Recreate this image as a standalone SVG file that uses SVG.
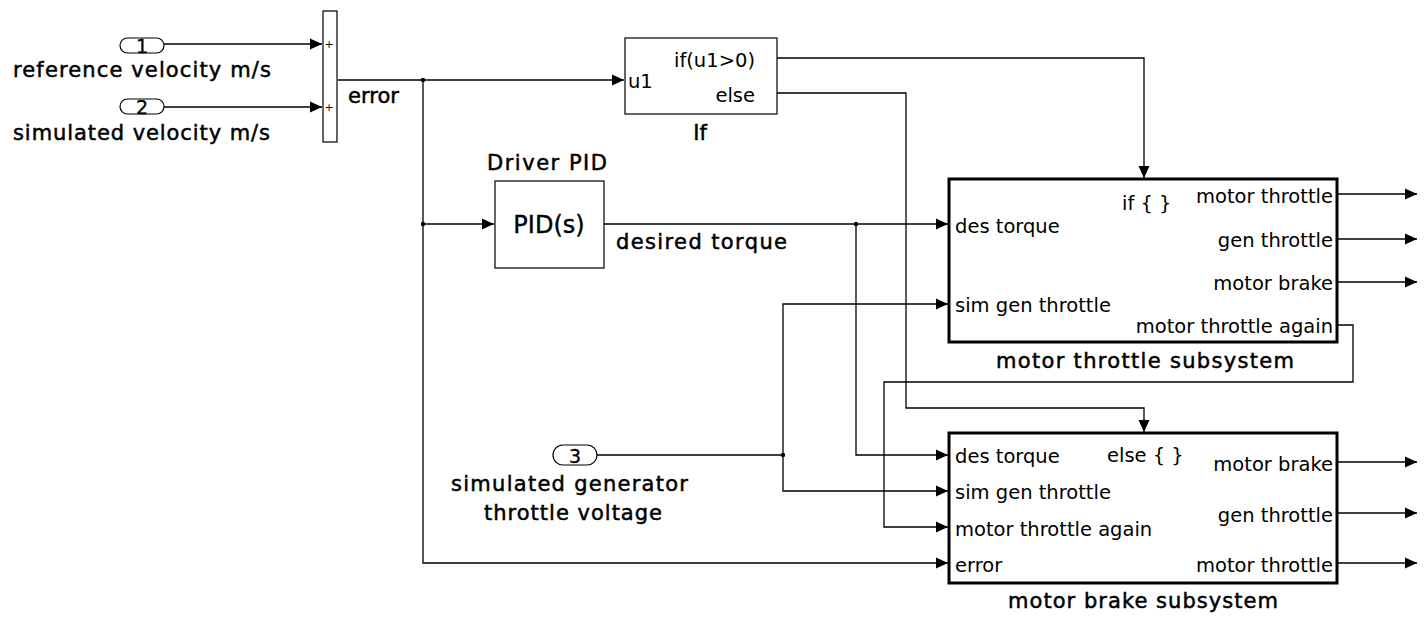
<svg xmlns="http://www.w3.org/2000/svg" width="1427" height="618" viewBox="0 0 1427 618">
<style>
text{font-family:"DejaVu Sans","Liberation Sans",sans-serif;fill:#000}
.in{font-size:19.5px}
.lb{font-size:21px;stroke:#000;stroke-width:0.5}
.num{font-size:19px;stroke:#000;stroke-width:0.3}
.blk{fill:#fff;stroke:#000;stroke-width:1.2}
.sub{fill:#fff;stroke:#000;stroke-width:3}
.ln{fill:none;stroke:#000;stroke-width:1.3}
.port{fill:#fff;stroke:#000;stroke-width:1.2}
</style>
<defs>
<marker id="ar" markerUnits="userSpaceOnUse" markerWidth="13" markerHeight="12" refX="12" refY="5.5" orient="auto" viewBox="0 0 13 11">
<path d="M0,0 L12,5.5 L0,11 Z" fill="#000"/>
</marker>
</defs>
<g id="connectors">
<path class="ln" d="M164,44 H322" marker-end="url(#ar)"/>
<path class="ln" d="M164,107 H322" marker-end="url(#ar)"/>
<path class="ln" d="M338,80 H624" marker-end="url(#ar)"/>
<path class="ln" d="M423,80 V563 H948" marker-end="url(#ar)"/>
<path class="ln" d="M423,224 H494" marker-end="url(#ar)"/>
<path class="ln" d="M604,224 H948" marker-end="url(#ar)"/>
<path class="ln" d="M856,224 V455 H948" marker-end="url(#ar)"/>
<path class="ln" d="M777,58 H1144 V178" marker-end="url(#ar)"/>
<path class="ln" d="M777,93 H906 V408 H1144 V432" marker-end="url(#ar)"/>
<path class="ln" d="M597,455 H783"/>
<path class="ln" d="M783,455 V304 H948" marker-end="url(#ar)"/>
<path class="ln" d="M783,455 V491 H948" marker-end="url(#ar)"/>
<path class="ln" d="M1337,325 H1353 V382 H884 V527 H948" marker-end="url(#ar)"/>
<path class="ln" d="M1337,194 H1417" marker-end="url(#ar)"/>
<path class="ln" d="M1337,239 H1417" marker-end="url(#ar)"/>
<path class="ln" d="M1337,282 H1417" marker-end="url(#ar)"/>
<path class="ln" d="M1337,462 H1417" marker-end="url(#ar)"/>
<path class="ln" d="M1337,513 H1417" marker-end="url(#ar)"/>
<path class="ln" d="M1337,563 H1417" marker-end="url(#ar)"/>
<circle cx="423" cy="80" r="2.2" fill="#000"/>
<circle cx="423" cy="224" r="2.2" fill="#000"/>
<circle cx="856" cy="224" r="2.2" fill="#000"/>
<circle cx="783" cy="455" r="2.2" fill="#000"/>
</g>
<g id="in1">
<rect class="port" x="120" y="38" width="44" height="15" rx="7.5"/>
<text class="num" x="142" y="53" text-anchor="middle">1</text>
<text class="lb" x="13" y="77" textLength="258" lengthAdjust="spacing">reference velocity m/s</text>
</g>
<g id="in2">
<rect class="port" x="120" y="99" width="44" height="15" rx="7.5"/>
<text class="num" x="142" y="114" text-anchor="middle">2</text>
<text class="lb" x="13" y="140" textLength="257" lengthAdjust="spacing">simulated velocity m/s</text>
</g>
<g id="sum">
<rect class="blk" x="323" y="11" width="14" height="131"/>
<text x="329" y="48" font-size="11" text-anchor="middle">+</text>
<text x="329" y="111" font-size="11" text-anchor="middle">+</text>
<text class="lb" x="348" y="103" textLength="51" lengthAdjust="spacing">error</text>
</g>
<g id="if">
<rect class="blk" x="625" y="38" width="152" height="76"/>
<text class="in" x="628" y="88">u1</text>
<text class="in" x="755" y="67" text-anchor="end">if(u1&gt;0)</text>
<text class="in" x="755" y="102" text-anchor="end">else</text>
<text class="lb" x="700" y="140" text-anchor="middle">If</text>
</g>
<g id="pid">
<rect class="blk" x="495" y="181" width="109" height="87"/>
<text x="549" y="233" font-size="24" stroke="#000" stroke-width="0.4" text-anchor="middle">PID(s)</text>
<text class="lb" x="487" y="170" textLength="120" lengthAdjust="spacing">Driver PID</text>
<text class="lb" x="616" y="249" textLength="171" lengthAdjust="spacing">desired torque</text>
</g>
<g id="in3">
<rect class="port" x="553" y="445" width="44" height="20" rx="10"/>
<text class="num" x="575" y="463" text-anchor="middle">3</text>
<text class="lb" x="451" y="491" textLength="237" lengthAdjust="spacing">simulated  generator</text>
<text class="lb" x="484" y="520" textLength="178" lengthAdjust="spacing">throttle voltage</text>
</g>
<g id="throttle">
<rect class="sub" x="949" y="179" width="388" height="163"/>
<text class="in" x="1122" y="210">if { }</text>
<text class="in" x="955" y="233">des torque</text>
<text class="in" x="955" y="312">sim gen throttle</text>
<text class="in" x="1333" y="203" text-anchor="end">motor throttle</text>
<text class="in" x="1333" y="247" text-anchor="end">gen throttle</text>
<text class="in" x="1333" y="290" text-anchor="end">motor brake</text>
<text class="in" x="1333" y="333" text-anchor="end">motor throttle again</text>
<text class="lb" x="996" y="368" textLength="298" lengthAdjust="spacing">motor throttle subsystem</text>
</g>
<g id="brake">
<rect class="sub" x="949" y="433" width="388" height="150"/>
<text class="in" x="1107" y="462">else { }</text>
<text class="in" x="955" y="463">des torque</text>
<text class="in" x="955" y="499">sim gen throttle</text>
<text class="in" x="955" y="536">motor throttle again</text>
<text class="in" x="955" y="572">error</text>
<text class="in" x="1333" y="471" text-anchor="end">motor brake</text>
<text class="in" x="1333" y="522" text-anchor="end">gen throttle</text>
<text class="in" x="1333" y="572" text-anchor="end">motor throttle</text>
<text class="lb" x="1008" y="608" textLength="270" lengthAdjust="spacing">motor brake subsystem</text>
</g>
</svg>
